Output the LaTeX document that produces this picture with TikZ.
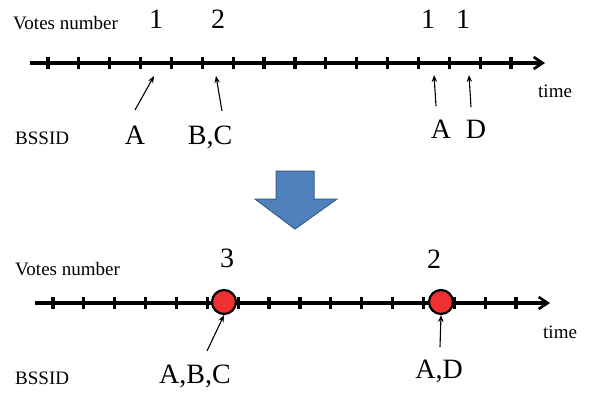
\documentclass[tikz,border=0pt]{standalone}
\usepackage{fontspec}
\setmainfont{Liberation Serif}
\usetikzlibrary{arrows.meta}
\definecolor{bluefill}{HTML}{4F81BD}
\definecolor{blueedge}{HTML}{385D8A}
\definecolor{dotred}{HTML}{EE3030}
\begin{document}
\begin{tikzpicture}[x=1pt,y=-1pt,
  smalltext/.style={font=\fontsize{19}{22}\selectfont, inner sep=0pt, anchor=base west},
  bigtext/.style={font=\fontsize{28}{32}\selectfont, inner sep=0pt, anchor=base},
  axisline/.style={line width=3.2pt, -{Straight Barb[length=9pt,width=12pt,line width=2.6pt]}},
  tickmark/.style={line width=3.2pt},
  pointer/.style={line width=1.1pt, -{Stealth[length=7pt,width=5.5pt]}},
  dot/.style={circle, fill=dotred, draw=black, line width=2.2pt, minimum size=24pt, inner sep=0pt},
  bigarrow/.style={fill=bluefill, draw=blueedge, line width=1pt, line join=miter}
]
\useasboundingbox (0,0) rectangle (593,394);

% ---------- top timeline ----------
\coordinate (t0) at (30,63);
\coordinate (t1) at (545,63);
\draw[axisline] (t0) -- (t1);
\foreach \i in {0,...,15}{
  \draw[tickmark] ({48+30.87*\i},57) -- ({48+30.87*\i},69);
}
\node[smalltext] (tvotes) at (13,29) {Votes number};
\node[smalltext] (tbssid) at (15,144) {BSSID};
\node[smalltext] (ttime) at (538,97) {time};
\node[bigtext] (n1) at (156,28) {1};
\node[bigtext] (n2) at (218,28) {2};
\node[bigtext] (n3) at (428,28) {1};
\node[bigtext] (n4) at (463,28) {1};
\node[bigtext] (lA) at (135,144) {A};
\node[bigtext] (lBC) at (210,144) {B,C};
\node[bigtext] (lA2) at (441,138) {A};
\node[bigtext] (lD) at (476,138) {D};

\coordinate (pa0) at (135,110); \coordinate (pa1) at (154,76);
\coordinate (pb0) at (222,111); \coordinate (pb1) at (216,76);
\coordinate (pc0) at (436,106); \coordinate (pc1) at (434,75);
\coordinate (pd0) at (471,107); \coordinate (pd1) at (469,75);
\draw[pointer] (pa0) -- (pa1);
\draw[pointer] (pb0) -- (pb1);
\draw[pointer] (pc0) -- (pc1);
\draw[pointer] (pd0) -- (pd1);

% ---------- block arrow ----------
\draw[bigarrow] (276,171) -- (314,171) -- (314,199) -- (337,199) -- (295,229) -- (255,199) -- (276,199) -- cycle;

% ---------- bottom timeline ----------
\coordinate (b0) at (35,303);
\coordinate (b1) at (550,303);
\draw[axisline] (b0) -- (b1);
\foreach \i in {0,...,15}{
  \draw[tickmark] ({53+30.87*\i},297) -- ({53+30.87*\i},309);
}
\node[dot] (d1) at (224,302) {};
\node[dot] (d2) at (441,302) {};
\node[smalltext] (bvotes) at (15,275) {Votes number};
\node[smalltext] (bbssid) at (15,384) {BSSID};
\node[smalltext] (btime) at (543,338) {time};
\node[bigtext] (m1) at (227,267) {3};
\node[bigtext] (m2) at (434,268) {2};
\node[bigtext] (lABC) at (195,383) {A,B,C};
\node[bigtext] (lAD) at (439,378) {A,D};

\coordinate (qa0) at (207,351);
\coordinate (qb0) at (440,347);
\draw[pointer] (qa0) -- (d1.south);
\draw[pointer] (qb0) -- (d2.south);
\end{tikzpicture}
\end{document}
